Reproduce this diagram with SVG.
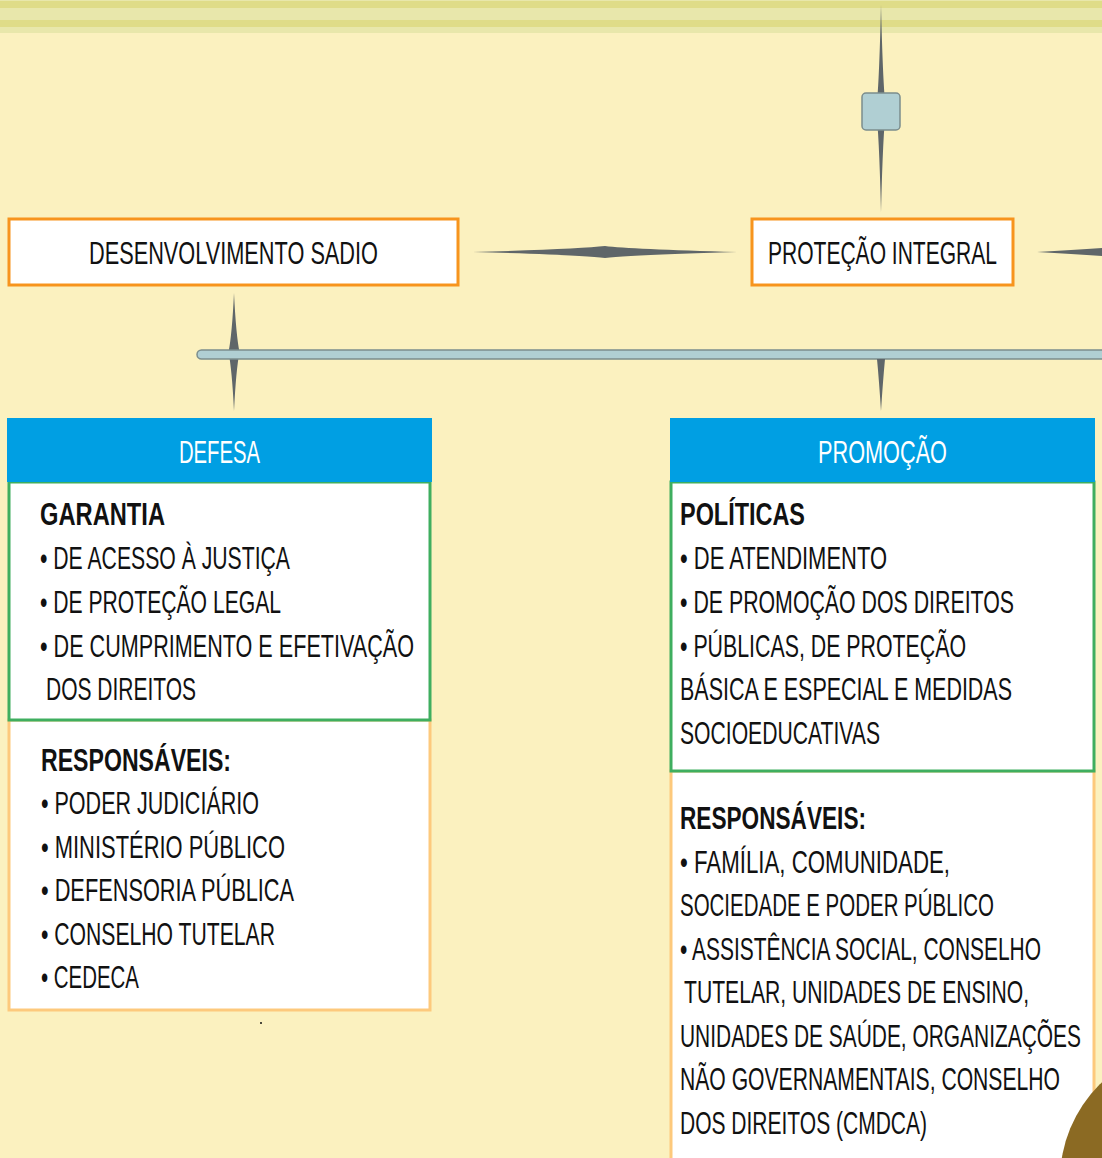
<svg xmlns="http://www.w3.org/2000/svg" width="1102" height="1158" viewBox="0 0 1102 1158">
<style>
.t{font-family:"Liberation Sans",Arial,sans-serif;font-size:31px;fill:#111}
.b{font-weight:bold}
.w{fill:#fff}
.spk{fill:#5f6669}
.top{fill:#fff;stroke:#f7941d;stroke-width:3}
.grn{fill:#fff;stroke:#3fae5f;stroke-width:3}
.org{fill:#fff;stroke:#fdc97c;stroke-width:3}
.hdr{fill:#009fe3}
.bar{fill:#b0cfd3;stroke:#7b8d8d;stroke-width:1.5}
</style>
<rect width="1102" height="1158" fill="#fbf1bf"/>
<rect y="0" width="1102" height="33" fill="#e8e7ab"/>
<rect y="1" width="1102" height="7" fill="#dfdc88"/>
<rect y="20" width="1102" height="7" fill="#dfdc88"/>

<g id="connectors">
<path class="spk" d="M881,5 Q879,90 876,111 Q879,130 881,212 Q883,130 886,111 Q883,90 881,5 Z"/>
<path class="spk" d="M473,252 Q580,249 605,246 Q630,249 737,252 Q630,255 605,258 Q580,255 473,252 Z"/>
<path class="spk" d="M1037,252 Q1090,249 1130,246 L1130,258 Q1090,255 1037,252 Z"/>
<path class="spk" d="M234,293 Q232,335 228.5,352 Q232,370 234,411 Q236,370 239.5,352 Q236,335 234,293 Z"/>
<rect class="bar" x="197" y="350" width="930" height="9" rx="4.5"/>
<path class="spk" d="M877,359 Q879,380 881,411 Q883,380 885,359 Z"/>
<rect class="bar" x="862" y="93" width="38" height="37" rx="4"/>
</g>

<g id="desenvolvimento">
<rect class="top" x="9" y="219" width="449" height="66"/>
<text class="t" x="89" y="264" textLength="289" lengthAdjust="spacingAndGlyphs">DESENVOLVIMENTO SADIO</text>
</g>

<g id="protecao">
<rect class="top" x="752" y="219" width="261" height="66"/>
<text class="t" x="768" y="264" textLength="229" lengthAdjust="spacingAndGlyphs">PROTEÇÃO INTEGRAL</text>
</g>

<g id="defesa">
<rect class="org" x="9" y="720" width="421" height="290"/>
<rect class="grn" x="9" y="482" width="421" height="238"/>
<rect class="hdr" x="7" y="418" width="425" height="64"/>
<text class="t w" x="179" y="463" textLength="81" lengthAdjust="spacingAndGlyphs">DEFESA</text>
<text class="t b" x="40" y="525" textLength="125" lengthAdjust="spacingAndGlyphs">GARANTIA</text>
<text class="t" x="40" y="569" textLength="250" lengthAdjust="spacingAndGlyphs">• DE ACESSO À JUSTIÇA</text>
<text class="t" x="40" y="613" textLength="241" lengthAdjust="spacingAndGlyphs">• DE PROTEÇÃO LEGAL</text>
<text class="t" x="40" y="657" textLength="374" lengthAdjust="spacingAndGlyphs">• DE CUMPRIMENTO E EFETIVAÇÃO</text>
<text class="t" x="46" y="700" textLength="150" lengthAdjust="spacingAndGlyphs">DOS DIREITOS</text>
<text class="t b" x="41" y="771" textLength="190" lengthAdjust="spacingAndGlyphs">RESPONSÁVEIS:</text>
<text class="t" x="41" y="814" textLength="218" lengthAdjust="spacingAndGlyphs">• PODER JUDICIÁRIO</text>
<text class="t" x="41" y="858" textLength="244" lengthAdjust="spacingAndGlyphs">• MINISTÉRIO PÚBLICO</text>
<text class="t" x="41" y="901" textLength="253" lengthAdjust="spacingAndGlyphs">• DEFENSORIA PÚBLICA</text>
<text class="t" x="41" y="945" textLength="234" lengthAdjust="spacingAndGlyphs">• CONSELHO TUTELAR</text>
<text class="t" x="41" y="988" textLength="98" lengthAdjust="spacingAndGlyphs">• CEDECA</text>
</g>
<circle cx="261" cy="1023" r="1" fill="#111"/>

<g id="promocao">
<rect class="org" x="671" y="771" width="423" height="400"/>
<rect class="grn" x="671" y="482" width="423" height="289"/>
<rect class="hdr" x="670" y="418" width="425" height="64"/>
<text class="t w" x="818" y="463" textLength="129" lengthAdjust="spacingAndGlyphs">PROMOÇÃO</text>
<text class="t b" x="680" y="525" textLength="125" lengthAdjust="spacingAndGlyphs">POLÍTICAS</text>
<text class="t" x="680" y="569" textLength="207" lengthAdjust="spacingAndGlyphs">• DE ATENDIMENTO</text>
<text class="t" x="680" y="613" textLength="334" lengthAdjust="spacingAndGlyphs">• DE PROMOÇÃO DOS DIREITOS</text>
<text class="t" x="680" y="657" textLength="286" lengthAdjust="spacingAndGlyphs">• PÚBLICAS, DE PROTEÇÃO</text>
<text class="t" x="680" y="700" textLength="332" lengthAdjust="spacingAndGlyphs">BÁSICA E ESPECIAL E MEDIDAS</text>
<text class="t" x="680" y="744" textLength="200" lengthAdjust="spacingAndGlyphs">SOCIOEDUCATIVAS</text>
<text class="t b" x="680" y="829" textLength="186" lengthAdjust="spacingAndGlyphs">RESPONSÁVEIS:</text>
<text class="t" x="680" y="873" textLength="270" lengthAdjust="spacingAndGlyphs">• FAMÍLIA, COMUNIDADE,</text>
<text class="t" x="680" y="916" textLength="314" lengthAdjust="spacingAndGlyphs">SOCIEDADE E PODER PÚBLICO</text>
<text class="t" x="680" y="960" textLength="361" lengthAdjust="spacingAndGlyphs">• ASSISTÊNCIA SOCIAL, CONSELHO</text>
<text class="t" x="684" y="1003" textLength="345" lengthAdjust="spacingAndGlyphs">TUTELAR, UNIDADES DE ENSINO,</text>
<text class="t" x="680" y="1047" textLength="401" lengthAdjust="spacingAndGlyphs">UNIDADES DE SAÚDE, ORGANIZAÇÕES</text>
<text class="t" x="680" y="1090" textLength="380" lengthAdjust="spacingAndGlyphs">NÃO GOVERNAMENTAIS, CONSELHO</text>
<text class="t" x="680" y="1134" textLength="247" lengthAdjust="spacingAndGlyphs">DOS DIREITOS (CMDCA)</text>
</g>
<circle cx="1195" cy="1180" r="135" fill="#8b6a23"/>
</svg>
